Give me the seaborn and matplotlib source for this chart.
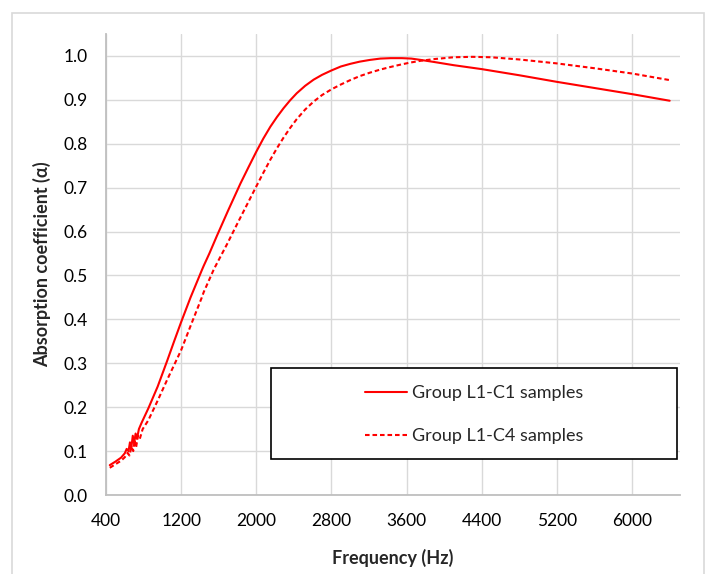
import matplotlib
matplotlib.use("Agg")
import matplotlib.pyplot as plt
import seaborn as sns
import pandas as pd
from matplotlib.patches import Rectangle
from matplotlib.lines import Line2D

# ---- data ----
freq_c1 = [440, 500, 560, 600, 620, 640, 655, 670, 685, 700, 715, 730, 750, 780,
           850, 950, 1050, 1125, 1200, 1300, 1420, 1440, 1500, 1580, 1700, 1830,
           1920, 2000, 2075, 2150, 2220, 2290, 2360, 2430, 2520, 2610, 2700, 2800,
           2900, 3000, 3100, 3210, 3320, 3430, 3550, 3650, 3750, 3900, 4100, 4400,
           4800, 5200, 5600, 6000, 6400]
alpha_c1 = [0.068, 0.076, 0.085, 0.095, 0.105, 0.100, 0.120, 0.108, 0.135, 0.118,
            0.140, 0.128, 0.150, 0.165, 0.197, 0.247, 0.305, 0.350, 0.394, 0.450,
            0.512, 0.522, 0.550, 0.590, 0.648, 0.709, 0.748, 0.782, 0.812, 0.839,
            0.861, 0.881, 0.899, 0.915, 0.932, 0.946, 0.957, 0.967, 0.976, 0.982,
            0.987, 0.991, 0.994, 0.995, 0.995, 0.994, 0.991, 0.986, 0.979, 0.970,
            0.956, 0.941, 0.927, 0.913, 0.898]

freq_c4 = [440, 500, 560, 600, 630, 650, 670, 690, 705, 720, 740, 760, 790, 850,
           950, 1050, 1200, 1300, 1420, 1440, 1550, 1690, 1800, 1900, 2000, 2075,
           2150, 2220, 2290, 2360, 2430, 2520, 2610, 2700, 2800, 2900, 3000, 3100,
           3210, 3320, 3430, 3530, 3640, 3750, 3900, 4100, 4300, 4500, 4800, 5200,
           5600, 6000, 6400]
alpha_c4 = [0.062, 0.070, 0.078, 0.086, 0.096, 0.090, 0.110, 0.100, 0.125, 0.108,
            0.135, 0.128, 0.150, 0.170, 0.215, 0.262, 0.330, 0.385, 0.450, 0.462,
            0.515, 0.572, 0.619, 0.661, 0.703, 0.734, 0.764, 0.790, 0.814, 0.836,
            0.856, 0.878, 0.896, 0.911, 0.924, 0.935, 0.945, 0.954, 0.962, 0.969,
            0.975, 0.980, 0.985, 0.989, 0.993, 0.997, 0.998, 0.997, 0.992, 0.983,
            0.972, 0.960, 0.945]

series_names = ["Group L1-C1 samples", "Group L1-C4 samples"]
x_ticks = [400, 1200, 2000, 2800, 3600, 4400, 5200, 6000]
y_ticks = [0.0, 0.1, 0.2, 0.3, 0.4, 0.5, 0.6, 0.7, 0.8, 0.9, 1.0]

df = pd.concat([
    pd.DataFrame({"Frequency": freq_c1, "Alpha": alpha_c1, "Series": series_names[0]}),
    pd.DataFrame({"Frequency": freq_c4, "Alpha": alpha_c4, "Series": series_names[1]}),
], ignore_index=True)

sns.set_style("white")
plt.rcParams["font.family"] = ["Lato", "DejaVu Sans"]

fig = plt.figure(figsize=(7.05, 5.74), dpi=100)
ax = fig.add_axes([106 / 705, 79 / 574, 574 / 705, 461 / 574])

# outer chart frame
fig.patches.append(Rectangle((12 / 705, -0.01), 692 / 705, (574 - 13) / 574 + 0.01,
                             transform=fig.transFigure, fill=False,
                             edgecolor="#D9D9D9", linewidth=1.2))

sns.lineplot(data=df, x="Frequency", y="Alpha", hue="Series", style="Series",
             palette=["#FF0000", "#FF0000"],
             dashes={series_names[0]: "", series_names[1]: (2.2, 1.4)},
             linewidth=1.5, sort=False, estimator=None, ax=ax, legend=False)

ax.set_xlim(400, 6510)
ax.set_ylim(0, 1.05)
ax.set_xticks(x_ticks)
ax.set_yticks(y_ticks)
ax.set_yticklabels([f"{v:.1f}" for v in y_ticks])
ax.tick_params(axis="y", length=0, labelsize=12.5, colors="#000000", pad=13)
ax.tick_params(axis="x", length=0, labelsize=12.5, colors="#000000", pad=13)
ax.grid(True, color="#D9D9D9", linewidth=1)
ax.set_axisbelow(True)
for s in ["top", "right"]:
    ax.spines[s].set_visible(False)
for s in ["left", "bottom"]:
    ax.spines[s].set_color("#BFBFBF")
    ax.spines[s].set_linewidth(1.3)

ax.set_xlabel("Frequency (Hz)", fontsize=13, fontweight="bold", labelpad=14)
ax.set_ylabel("Absorption coefficient (α)", fontsize=13, fontweight="bold", labelpad=9)

# legend box
ax.add_patch(Rectangle((0.2875, 0.078), 0.7073, 0.1975, transform=ax.transAxes,
                       facecolor="white", edgecolor="black", linewidth=1.2, zorder=5))
handles = [Line2D([], [], color="#FF0000", lw=1.5),
           Line2D([], [], color="#FF0000", lw=1.5, dashes=(2.2, 1.4))]
leg = ax.legend(handles, series_names, loc="center", bbox_to_anchor=(0.6411, 0.1746),
                frameon=False, fontsize=13, handlelength=2.33, handletextpad=0.3,
                labelspacing=1.5)
leg.set_zorder(6)

fig.savefig("out.png", dpi=100)
